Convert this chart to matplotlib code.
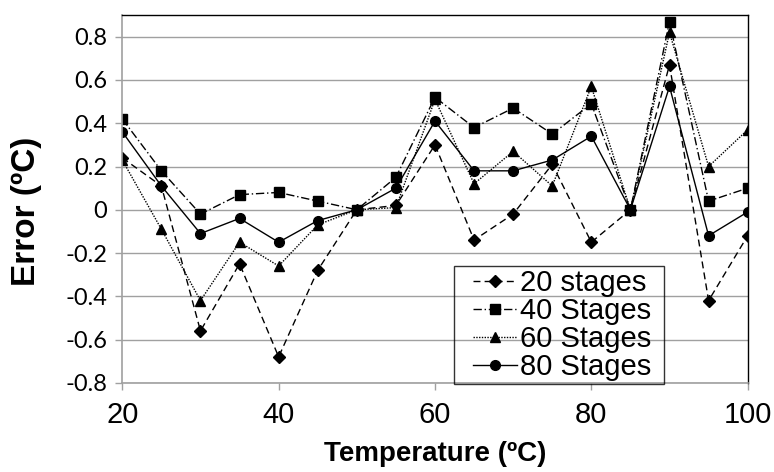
import matplotlib.pyplot as plt
from matplotlib.path import Path

# data
temps = [20, 25, 30, 35, 40, 45, 50, 55, 60, 65, 70, 75, 80, 85, 90, 95, 100]
err_20 = [0.24, 0.11, -0.56, -0.25, -0.68, -0.28, 0.00, 0.02, 0.30, -0.14, -0.02, 0.21, -0.15, 0.00, 0.67, -0.42, -0.12]
err_40 = [0.42, 0.18, -0.02, 0.07, 0.08, 0.04, 0.00, 0.15, 0.52, 0.38, 0.47, 0.35, 0.49, 0.00, 0.87, 0.04, 0.10]
err_60 = [0.23, -0.09, -0.42, -0.15, -0.26, -0.07, 0.00, 0.01, 0.51, 0.12, 0.27, 0.11, 0.57, 0.00, 0.82, 0.20, 0.37]
err_80 = [0.36, 0.11, -0.11, -0.04, -0.15, -0.05, 0.00, 0.10, 0.41, 0.18, 0.18, 0.23, 0.34, 0.00, 0.57, -0.12, -0.01]
labels = ['20 stages', '40 Stages', '60 Stages', '80 Stages']

plt.rcParams['font.family'] = ['Liberation Sans', 'DejaVu Sans']

fig = plt.figure(figsize=(7.74, 4.72), dpi=100)
ax = fig.add_axes([0.158, 0.189, 0.808, 0.779])

ax.plot(temps, err_20, color='black', lw=1, ls=(0, (5, 3)), marker='D', ms=6, label=labels[0])
ax.plot(temps, err_40, color='black', lw=1, ls=(0, (6, 2, 1, 2)), marker='s', ms=7, label=labels[1])
ax.plot(temps, err_60, color='black', lw=1, ls=(0, (1, 1)), marker='^', ms=7, label=labels[2])
ax.plot(temps, err_80, color='black', lw=1, ls='-', marker='o', ms=7, label=labels[3])

ax.set_xlim(20, 100)
ax.set_ylim(-0.8, 0.9)
ax.set_xticks([20, 40, 60, 80, 100])
ax.set_yticks([-0.8, -0.6, -0.4, -0.2, 0, 0.2, 0.4, 0.6, 0.8])
ax.set_yticklabels(['-0.8', '-0.6', '-0.4', '-0.2', '0', '0.2', '0.4', '0.6', '0.8'])
ax.yaxis.grid(True, color='#a0a0a0', lw=1)
ax.set_axisbelow(True)
ax.tick_params(axis='both', direction='out', color='#a0a0a0', length=5, width=1)
ax.tick_params(axis='y', pad=6)
ax.tick_params(axis='x', pad=8)
for t in ax.get_yticklabels():
    t.set_family(['Lato', 'DejaVu Sans'])
    t.set_fontsize(17)
for t in ax.get_xticklabels():
    t.set_fontsize(21)

for side in ['left', 'bottom']:
    ax.spines[side].set_color('#a0a0a0')
    ax.spines[side].set_linewidth(1.2)
for side in ['top', 'right']:
    ax.spines[side].set_color('black')
    ax.spines[side].set_linewidth(1)

ax.set_xlabel('Temperature (ºC)', fontsize=20, fontweight='bold', labelpad=9)
ax.set_ylabel('Error (ºC)', fontsize=24, fontweight='bold')
ax.yaxis.set_label_coords(-0.128, 0.465)


# legend frame a bit wider than the packed contents
def wide_box(x0, y0, width, height, mutation_size):
    left = 0.55 * mutation_size
    right = 0.35 * mutation_size
    return Path([(x0 - left, y0), (x0 + width + right, y0), (x0 + width + right, y0 + height),
                 (x0 - left, y0 + height), (x0 - left, y0)], closed=True)


leg = ax.legend(loc='lower right', bbox_to_anchor=(0.85, -0.004), fontsize=21, frameon=True,
                fancybox=False, edgecolor='black', borderpad=0.1,
                labelspacing=0.0, handlelength=1.5, handletextpad=0.1, borderaxespad=0)
leg.get_frame().set_facecolor('none')
leg.get_frame().set_linewidth(1)
leg.get_frame().set_boxstyle(wide_box)

fig.savefig('out.png', dpi=100)
